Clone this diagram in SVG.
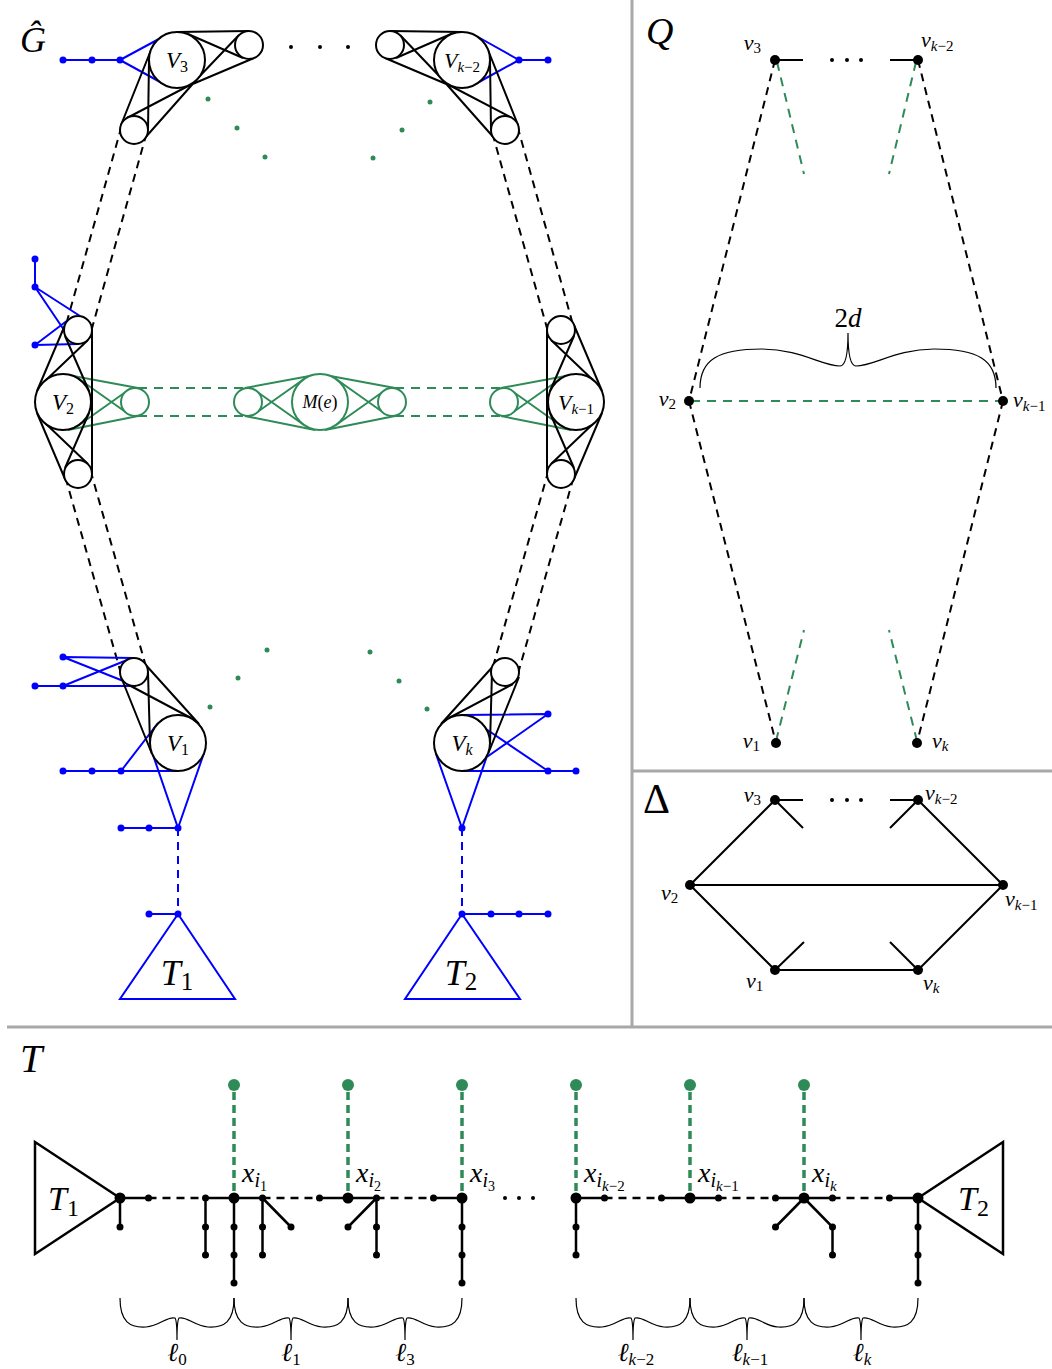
<svg xmlns="http://www.w3.org/2000/svg" width="1052" height="1369" viewBox="0 0 1052 1369">
<style>
.k{stroke:#000;stroke-width:2;fill:none}
.c{stroke:#000;stroke-width:2;fill:#fff}
.kd{stroke:#000;stroke-width:2;fill:none;stroke-dasharray:8 6}
.b{stroke:#00f;stroke-width:2;fill:none}
.bd{stroke:#00f;stroke-width:2;fill:none;stroke-dasharray:8 6}
.bf{fill:#00f}
.g{stroke:#2e8b57;stroke-width:2;fill:none}
.gc{stroke:#2e8b57;stroke-width:2;fill:#fff}
.gd{stroke:#2e8b57;stroke-width:2;fill:none;stroke-dasharray:9 7}
.gt{stroke:#2e8b57;stroke-width:3.5;fill:none;stroke-dasharray:8 5}
.gf{fill:#2e8b57}
.kf{fill:#000}
.fr{stroke:#a8a8a8;stroke-width:3;fill:none}
.sp{stroke:#000;stroke-width:2.5;fill:none}
.spd{stroke:#000;stroke-width:2.5;fill:none;stroke-dasharray:8 6}
.br{stroke:#000;stroke-width:1.2;fill:none}
text{font-family:"Liberation Serif","DejaVu Serif",serif;fill:#000}
.i{font-style:italic}
.n{font-style:normal}
</style>

<!-- frame -->
<g id="frame">
<line class="fr" x1="632" y1="0" x2="632" y2="1027"/>
<line class="fr" x1="632" y1="771" x2="1052" y2="771"/>
<line class="fr" x1="7" y1="1027" x2="1052" y2="1027"/>
</g>

<!-- ================= G hat panel ================= -->
<text x="20" y="52" font-size="36" class="i">Ĝ</text>

<g id="connectors-G">
<line class="kd" x1="121.5" y1="126.5" x2="65.5" y2="326.5"/>
<line class="kd" x1="146.5" y1="133.5" x2="90.5" y2="333.5"/>
<line class="kd" x1="517.5" y1="126.5" x2="573.5" y2="326.5"/>
<line class="kd" x1="492.5" y1="133.5" x2="548.5" y2="333.5"/>
<line class="kd" x1="65.5" y1="477.5" x2="121.5" y2="675.5"/>
<line class="kd" x1="90.5" y1="470.5" x2="146.5" y2="668.5"/>
<line class="kd" x1="573.5" y1="477.5" x2="517.5" y2="675.5"/>
<line class="kd" x1="548.5" y1="470.5" x2="492.5" y2="668.5"/>
<line class="gd" x1="138" y1="388" x2="245" y2="388"/>
<line class="gd" x1="138" y1="416" x2="245" y2="416"/>
<line class="gd" x1="395" y1="388" x2="501" y2="388"/>
<line class="gd" x1="395" y1="416" x2="501" y2="416"/>
<line class="bd" x1="178" y1="828" x2="178" y2="914"/>
<line class="bd" x1="462" y1="828" x2="462" y2="914"/>
</g>

<!-- dots -->
<g id="dots-G">
<circle class="kf" cx="291" cy="47" r="2"/><circle class="kf" cx="320" cy="47" r="2"/><circle class="kf" cx="348" cy="47" r="2"/>
<circle class="gf" cx="208" cy="99" r="2.5"/><circle class="gf" cx="237" cy="128" r="2.5"/><circle class="gf" cx="265" cy="157" r="2.5"/>
<circle class="gf" cx="430" cy="102" r="2.5"/><circle class="gf" cx="402" cy="130" r="2.5"/><circle class="gf" cx="373" cy="158" r="2.5"/>
<circle class="gf" cx="267" cy="650" r="2.5"/><circle class="gf" cx="238" cy="678" r="2.5"/><circle class="gf" cx="210" cy="707" r="2.5"/>
<circle class="gf" cx="370" cy="652" r="2.5"/><circle class="gf" cx="399" cy="681" r="2.5"/><circle class="gf" cx="427" cy="709" r="2.5"/>
</g>

<!-- V3 -->
<g id="V3">
<path class="b" d="M63 60H120M120 60L170 33M120 60L162 83"/>
<circle class="bf" cx="63" cy="60" r="3.5"/><circle class="bf" cx="92" cy="60" r="3.5"/><circle class="bf" cx="120" cy="60" r="3.5"/>
<path class="k" d="M177 32L249 31M188 86L254 58M188 34L243 58M197 79L239 35M151 50L121 125M198 78L144 139M149 60L148 130M190 85L127 118"/>
<circle class="c" cx="177" cy="60" r="28"/><circle class="c" cx="249" cy="45" r="14"/><circle class="c" cx="134" cy="130" r="14"/>
<text x="177" y="68" font-size="23" text-anchor="middle"><tspan class="i">V</tspan><tspan font-size="16" dy="4">3</tspan></text>
</g>

<!-- Vk-2 -->
<g id="Vk-2">
<path class="b" d="M519 60H548M519 60L478 37M519 60L479 82"/>
<circle class="bf" cx="519" cy="60" r="3.5"/><circle class="bf" cx="548" cy="60" r="3.5"/>
<path class="k" d="M462 32L390 31M451 86L385 58M451 34L396 58M442 79L400 35M488 50L518 125M441 78L495 139M490 60L491 130M449 85L512 118"/>
<circle class="c" cx="462" cy="60" r="28"/><circle class="c" cx="390" cy="45" r="14"/><circle class="c" cx="505" cy="130" r="14"/>
<text x="462" y="68" font-size="22" text-anchor="middle"><tspan class="i">V</tspan><tspan font-size="15" dy="4"><tspan class="i">k</tspan>−2</tspan></text>
</g>

<!-- V2 -->
<g id="V2">
<path class="b" d="M35 259V287M35 287L80 316M35 287L64 330M35 345L68 320M35 345L78 344"/>
<circle class="bf" cx="35" cy="259" r="3.5"/><circle class="bf" cx="35" cy="287" r="3.5"/><circle class="bf" cx="35" cy="345" r="3.5"/>
<path class="g" d="M68 375L138 388M68 430L138 416M79 379L127 413M79 425L127 391"/>
<circle class="gc" cx="135" cy="402" r="14"/>
<path class="k" d="M92 330V474M37 391L65 325M44 382L88 340M89 391L65 336M37 413L65 479M44 422L88 464M89 413L65 468"/>
<circle class="c" cx="63" cy="402" r="28"/><circle class="c" cx="78" cy="330" r="14"/><circle class="c" cx="78" cy="474" r="14"/>
<text x="63" y="410" font-size="23" text-anchor="middle"><tspan class="i">V</tspan><tspan font-size="16" dy="4">2</tspan></text>
</g>

<!-- M(e) -->
<g id="Me">
<path class="g" d="M315 375L245 388M315 430L245 416M304 379L256 413M304 425L256 391M325 375L395 388M325 430L395 416M336 379L384 413M336 425L384 391"/>
<circle class="gc" cx="320" cy="402" r="28"/><circle class="gc" cx="248" cy="402" r="14"/><circle class="gc" cx="392" cy="402" r="14"/>
<text x="320" y="408" font-size="18" text-anchor="middle"><tspan class="i">M</tspan>(<tspan class="i">e</tspan>)</text>
</g>

<!-- Vk-1 -->
<g id="Vk-1">
<path class="g" d="M571 375L501 388M571 430L501 416M560 379L512 413M560 425L512 391"/>
<circle class="gc" cx="504" cy="402" r="14"/>
<path class="k" d="M547 330V474M602 391L574 325M595 382L551 340M550 391L574 336M602 413L574 479M595 422L551 464M550 413L574 468"/>
<circle class="c" cx="576" cy="402" r="28"/><circle class="c" cx="561" cy="330" r="14"/><circle class="c" cx="561" cy="474" r="14"/>
<text x="576" y="410" font-size="22" text-anchor="middle"><tspan class="i">V</tspan><tspan font-size="15" dy="4"><tspan class="i">k</tspan>−1</tspan></text>
</g>

<!-- V1 -->
<g id="V1">
<path class="b" d="M63 657L134 658M63 657L136 686M63 686L132 658M35 686L134 686M63 771H178M121 771L158 723M153 755L178 828M204 753L178 828M121 828H178M149 914H178M178 914L120 999H235Z"/>
<circle class="bf" cx="63" cy="657" r="3.5"/><circle class="bf" cx="35" cy="686" r="3.5"/><circle class="bf" cx="63" cy="686" r="3.5"/>
<circle class="bf" cx="63" cy="771" r="3.5"/><circle class="bf" cx="92" cy="771" r="3.5"/><circle class="bf" cx="121" cy="771" r="3.5"/>
<circle class="bf" cx="121" cy="828" r="3.5"/><circle class="bf" cx="149" cy="828" r="3.5"/><circle class="bf" cx="178" cy="828" r="3.5"/>
<circle class="bf" cx="149" cy="914" r="3.5"/><circle class="bf" cx="178" cy="914" r="3.5"/>
<path class="k" d="M152 754L121 677M199 724L144 663M150 744L148 672M191 718L127 684"/>
<circle class="c" cx="178" cy="743" r="28"/><circle class="c" cx="134" cy="672" r="14"/>
<text x="178" y="751" font-size="23" text-anchor="middle"><tspan class="i">V</tspan><tspan font-size="16" dy="4">1</tspan></text>
<text x="177" y="985" font-size="36" text-anchor="middle"><tspan class="i">T</tspan><tspan font-size="25" dy="5">1</tspan></text>
</g>

<!-- Vk -->
<g id="Vk">
<path class="b" d="M462 715L548 714M548 714L484 759M483 727L548 771M462 771H576M436 754L462 828M487 756L462 828M462 914H548M462 914L405 999H520Z"/>
<circle class="bf" cx="548" cy="714" r="3.5"/><circle class="bf" cx="548" cy="771" r="3.5"/><circle class="bf" cx="576" cy="771" r="3.5"/>
<circle class="bf" cx="462" cy="828" r="3.5"/>
<circle class="bf" cx="462" cy="914" r="3.5"/><circle class="bf" cx="491" cy="914" r="3.5"/><circle class="bf" cx="519" cy="914" r="3.5"/><circle class="bf" cx="548" cy="914" r="3.5"/>
<path class="k" d="M488 754L519 677M441 724L496 663M490 744L492 672M449 718L513 684"/>
<circle class="c" cx="462" cy="743" r="28"/><circle class="c" cx="505" cy="672" r="14"/>
<text x="462" y="751" font-size="23" text-anchor="middle"><tspan class="i">V</tspan><tspan font-size="16" dy="4" class="i">k</tspan></text>
<text x="461" y="985" font-size="36" text-anchor="middle"><tspan class="i">T</tspan><tspan font-size="25" dy="5">2</tspan></text>
</g>

<!-- ================= Q panel ================= -->
<text x="646" y="44" font-size="38" class="i">Q</text>
<g id="connectors-Q">
<line class="kd" x1="775" y1="60" x2="689" y2="401"/>
<line class="kd" x1="918" y1="60" x2="1003" y2="401"/>
<line class="kd" x1="689" y1="401" x2="776" y2="743"/>
<line class="kd" x1="1003" y1="401" x2="917" y2="743"/>
<line class="gd" x1="777" y1="62" x2="804" y2="174" stroke-dasharray="8 6"/>
<line class="gd" x1="916" y1="62" x2="889" y2="174" stroke-dasharray="8 6"/>
<line class="gd" x1="776" y1="741" x2="804" y2="630" stroke-dasharray="8 6"/>
<line class="gd" x1="917" y1="741" x2="889" y2="630" stroke-dasharray="8 6"/>
<line class="gd" x1="691" y1="401" x2="1001" y2="401" stroke-dasharray="8 6"/>
<line class="k" x1="775" y1="60" x2="803" y2="60"/>
<line class="k" x1="890" y1="60" x2="918" y2="60"/>
<path class="br" d="M700 388C700 360 718 349 762 349C800 349 822 366 840 366C846 366 848 352 848 333C848 352 850 366 856 366C874 366 896 349 934 349C978 349 996 360 996 388"/>
</g>
<g id="Q-nodes">
<circle class="kf" cx="832" cy="60" r="2"/><circle class="kf" cx="847" cy="60" r="2"/><circle class="kf" cx="861" cy="60" r="2"/>
<circle class="kf" cx="775" cy="60" r="5"/><circle class="kf" cx="918" cy="60" r="5"/>
<circle class="kf" cx="689" cy="401" r="5"/><circle class="kf" cx="1003" cy="401" r="5"/>
<circle class="kf" cx="776" cy="743" r="5"/><circle class="kf" cx="917" cy="743" r="5"/>
<text x="761" y="50" font-size="22" text-anchor="end"><tspan class="i">v</tspan><tspan font-size="15" dy="3">3</tspan></text>
<text x="921" y="47" font-size="22"><tspan class="i">v</tspan><tspan font-size="15" dy="4"><tspan class="i">k</tspan>−2</tspan></text>
<text x="676" y="406" font-size="22" text-anchor="end"><tspan class="i">v</tspan><tspan font-size="15" dy="3">2</tspan></text>
<text x="1013" y="407" font-size="22"><tspan class="i">v</tspan><tspan font-size="15" dy="4"><tspan class="i">k</tspan>−1</tspan></text>
<text x="760" y="748" font-size="22" text-anchor="end"><tspan class="i">v</tspan><tspan font-size="15" dy="3">1</tspan></text>
<text x="932" y="748" font-size="22"><tspan class="i">v</tspan><tspan font-size="15" dy="3" class="i">k</tspan></text>
<text x="848" y="327" font-size="27" text-anchor="middle">2<tspan class="i">d</tspan></text>
</g>

<!-- ================= Delta panel ================= -->
<text x="643" y="813" font-size="42">Δ</text>
<g id="connectors-D">
<path class="k" d="M775 800H803M890 800H918M775 800L803 828M918 800L890 828M690 885L775 800M690 885H1003M1003 885L918 800M690 885L775 970M1003 885L918 970M775 970H918M775 970L804 942M918 970L890 942"/>
</g>
<g id="D-nodes">
<circle class="kf" cx="832" cy="800" r="2"/><circle class="kf" cx="847" cy="800" r="2"/><circle class="kf" cx="861" cy="800" r="2"/>
<circle class="kf" cx="775" cy="800" r="5"/><circle class="kf" cx="918" cy="800" r="5"/>
<circle class="kf" cx="690" cy="885" r="5"/><circle class="kf" cx="1003" cy="885" r="5"/>
<circle class="kf" cx="775" cy="970" r="5"/><circle class="kf" cx="918" cy="970" r="5"/>
<text x="761" y="802" font-size="22" text-anchor="end"><tspan class="i">v</tspan><tspan font-size="15" dy="3">3</tspan></text>
<text x="925" y="800" font-size="22"><tspan class="i">v</tspan><tspan font-size="15" dy="4"><tspan class="i">k</tspan>−2</tspan></text>
<text x="661" y="900" font-size="22"><tspan class="i">v</tspan><tspan font-size="15" dy="3">2</tspan></text>
<text x="1005" y="906" font-size="22"><tspan class="i">v</tspan><tspan font-size="15" dy="4"><tspan class="i">k</tspan>−1</tspan></text>
<text x="746" y="988" font-size="22"><tspan class="i">v</tspan><tspan font-size="15" dy="3">1</tspan></text>
<text x="923" y="990" font-size="22"><tspan class="i">v</tspan><tspan font-size="15" dy="3" class="i">k</tspan></text>
</g>

<!-- ================= T panel ================= -->
<text x="20" y="1072" font-size="40" class="i">T</text>
<g id="connectors-T">
<path class="gt" d="M234 1092V1198M348 1092V1198M462 1092V1198M576 1092V1198M690 1092V1198M804 1092V1198"/>
<path class="sp" d="M120 1198H148.5M205.5 1198H262.5M319.5 1198H376.5M433.5 1198H462M576 1198H604.5M661.5 1198H718.5M775.5 1198H832.5M889.5 1198H918"/>
<path class="spd" d="M148.5 1198H205.5M262.5 1198H319.5M376.5 1198H433.5M604.5 1198H661.5M718.5 1198H775.5M832.5 1198H889.5"/>
<path class="sp" d="M120 1198V1227M205.5 1198V1255M234 1198V1283M262.5 1198V1255M262.5 1198L291 1227M376.5 1198L348 1227M376.5 1198V1255M462 1198V1283M576 1198V1255M804 1198L775.5 1227M804 1198L832.5 1227V1255M918 1198V1283"/>
<path class="sp" d="M120 1198L35 1142V1254Z"/>
<path class="sp" d="M918 1198L1003 1142V1254Z"/>
</g>
<g id="T-nodes">
<g class="gf">
<circle cx="234" cy="1085" r="6"/><circle cx="348" cy="1085" r="6"/><circle cx="462" cy="1085" r="6"/>
<circle cx="576" cy="1085" r="6"/><circle cx="690" cy="1085" r="6"/><circle cx="804" cy="1085" r="6"/>
</g>
<g class="kf">
<circle cx="120" cy="1198" r="5.5"/><circle cx="234" cy="1198" r="5.5"/><circle cx="348" cy="1198" r="5.5"/><circle cx="462" cy="1198" r="5.5"/>
<circle cx="576" cy="1198" r="5.5"/><circle cx="690" cy="1198" r="5.5"/><circle cx="804" cy="1198" r="5.5"/><circle cx="918" cy="1198" r="5.5"/>
<circle cx="148.5" cy="1198" r="3.5"/><circle cx="205.5" cy="1198" r="3.5"/><circle cx="262.5" cy="1198" r="3.5"/><circle cx="319.5" cy="1198" r="3.5"/><circle cx="376.5" cy="1198" r="3.5"/><circle cx="433.5" cy="1198" r="3.5"/>
<circle cx="604.5" cy="1198" r="3.5"/><circle cx="661.5" cy="1198" r="3.5"/><circle cx="718.5" cy="1198" r="3.5"/><circle cx="775.5" cy="1198" r="3.5"/><circle cx="832.5" cy="1198" r="3.5"/><circle cx="889.5" cy="1198" r="3.5"/>
<circle cx="120" cy="1227" r="3.5"/>
<circle cx="205.5" cy="1227" r="3.5"/><circle cx="205.5" cy="1255" r="3.5"/>
<circle cx="234" cy="1227" r="3.5"/><circle cx="234" cy="1255" r="3.5"/><circle cx="234" cy="1283" r="3.5"/>
<circle cx="262.5" cy="1227" r="3.5"/><circle cx="262.5" cy="1255" r="3.5"/><circle cx="291" cy="1227" r="3.5"/>
<circle cx="348" cy="1227" r="3.5"/><circle cx="376.5" cy="1227" r="3.5"/><circle cx="376.5" cy="1255" r="3.5"/>
<circle cx="462" cy="1227" r="3.5"/><circle cx="462" cy="1255" r="3.5"/><circle cx="462" cy="1283" r="3.5"/>
<circle cx="576" cy="1227" r="3.5"/><circle cx="576" cy="1255" r="3.5"/>
<circle cx="775.5" cy="1227" r="3.5"/><circle cx="832.5" cy="1227" r="3.5"/><circle cx="832.5" cy="1255" r="3.5"/>
<circle cx="918" cy="1227" r="3.5"/><circle cx="918" cy="1255" r="3.5"/><circle cx="918" cy="1283" r="3.5"/>
<circle cx="505" cy="1198" r="2"/><circle cx="519" cy="1198" r="2"/><circle cx="533" cy="1198" r="2"/>
</g>
<text x="48" y="1210" font-size="34"><tspan class="i">T</tspan><tspan font-size="24" dy="6">1</tspan></text>
<text x="958" y="1210" font-size="34"><tspan class="i">T</tspan><tspan font-size="24" dy="6">2</tspan></text>
<text x="242" y="1182" font-size="28"><tspan class="i">x</tspan><tspan font-size="20" dy="5" class="i">i</tspan><tspan font-size="14" dy="4">1</tspan></text>
<text x="356" y="1182" font-size="28"><tspan class="i">x</tspan><tspan font-size="20" dy="5" class="i">i</tspan><tspan font-size="14" dy="4">2</tspan></text>
<text x="470" y="1182" font-size="28"><tspan class="i">x</tspan><tspan font-size="20" dy="5" class="i">i</tspan><tspan font-size="14" dy="4">3</tspan></text>
<text x="584" y="1182" font-size="28"><tspan class="i">x</tspan><tspan font-size="20" dy="5" class="i">i</tspan><tspan font-size="15" dy="4"><tspan class="i">k</tspan>−2</tspan></text>
<text x="698" y="1182" font-size="28"><tspan class="i">x</tspan><tspan font-size="20" dy="5" class="i">i</tspan><tspan font-size="15" dy="4"><tspan class="i">k</tspan>−1</tspan></text>
<text x="812" y="1182" font-size="28"><tspan class="i">x</tspan><tspan font-size="20" dy="5" class="i">i</tspan><tspan font-size="15" dy="4" class="i">k</tspan></text>
</g>
<g id="braces-T">
<path class="br" d="M120 1298C120 1322 130 1328 146 1327C160 1326 167 1316 175 1318C176.5 1320 177 1328 177 1340C177 1328 177.5 1320 179 1318C187 1316 194 1326 208 1327C224 1328 234 1322 234 1298"/>
<path class="br" d="M234 1298C234 1322 244 1328 260 1327C274 1326 281 1316 289 1318C290.5 1320 291 1328 291 1340C291 1328 291.5 1320 293 1318C301 1316 308 1326 322 1327C338 1328 348 1322 348 1298"/>
<path class="br" d="M348 1298C348 1322 358 1328 374 1327C388 1326 395 1316 403 1318C404.5 1320 405 1328 405 1340C405 1328 405.5 1320 407 1318C415 1316 422 1326 436 1327C452 1328 462 1322 462 1298"/>
<path class="br" d="M576 1298C576 1322 586 1328 602 1327C616 1326 623 1316 631 1318C632.5 1320 633 1328 633 1340C633 1328 633.5 1320 635 1318C643 1316 650 1326 664 1327C680 1328 690 1322 690 1298"/>
<path class="br" d="M690 1298C690 1322 700 1328 716 1327C730 1326 737 1316 745 1318C746.5 1320 747 1328 747 1340C747 1328 747.5 1320 749 1318C757 1316 764 1326 778 1327C794 1328 804 1322 804 1298"/>
<path class="br" d="M804 1298C804 1322 814 1328 830 1327C844 1326 851 1316 859 1318C860.5 1320 861 1328 861 1340C861 1328 861.5 1320 863 1318C871 1316 878 1326 892 1327C908 1328 918 1322 918 1298"/>
<text x="177" y="1361" font-size="26" text-anchor="middle"><tspan class="i">ℓ</tspan><tspan font-size="17" dy="4">0</tspan></text>
<text x="291" y="1361" font-size="26" text-anchor="middle"><tspan class="i">ℓ</tspan><tspan font-size="17" dy="4">1</tspan></text>
<text x="405" y="1361" font-size="26" text-anchor="middle"><tspan class="i">ℓ</tspan><tspan font-size="17" dy="4">3</tspan></text>
<text x="636" y="1361" font-size="26" text-anchor="middle"><tspan class="i">ℓ</tspan><tspan font-size="17" dy="4"><tspan class="i">k</tspan>−2</tspan></text>
<text x="750" y="1361" font-size="26" text-anchor="middle"><tspan class="i">ℓ</tspan><tspan font-size="17" dy="4"><tspan class="i">k</tspan>−1</tspan></text>
<text x="862" y="1361" font-size="26" text-anchor="middle"><tspan class="i">ℓ</tspan><tspan font-size="17" dy="4" class="i">k</tspan></text>
</g>
</svg>
